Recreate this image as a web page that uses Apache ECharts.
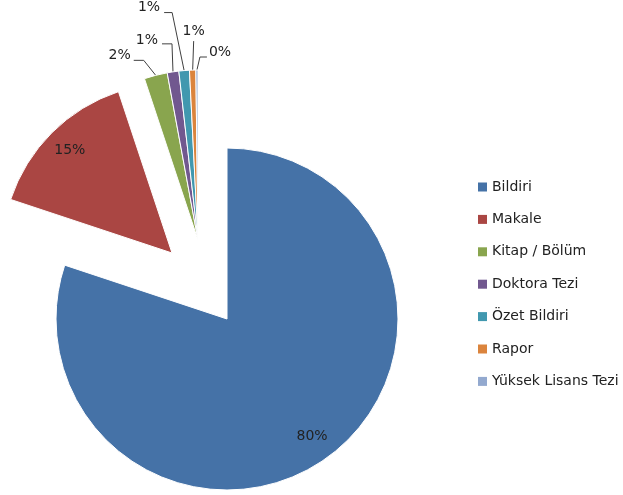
<!DOCTYPE html>
<html>
<head>
<meta charset="utf-8">
<script src="https://cdn.jsdelivr.net/npm/echarts@6/dist/echarts.min.js"></script>
<style>
  html, body { margin: 0; padding: 0; background: #fff; }
  #main { width: 623px; height: 495px; }
</style>
</head>
<body>
<div id="main"></div>
<script>
const categories = ['Bildiri', 'Makale', 'Kitap / Bölüm', 'Doktora Tezi', 'Özet Bildiri', 'Rapor', 'Yüksek Lisans Tezi'];
const shares = [80.1, 14.8, 2.2, 1.1, 1.0, 0.6, 0.2];
const colors = ['#4572A7', '#AA4643', '#89A54E', '#71588F', '#4198AF', '#DB843D', '#93A9CF'];

// exploded pieces: every pie gets all the data, only its own slices are painted
const groups = [
    { show: [0], center: [227, 319], radius: 171, outside: false },
    { show: [1], center: [172, 253], radius: 170, outside: false },
    { show: [2, 3, 4, 5, 6], center: [198, 240], radius: 170, outside: true }
];

// leader lines of the thin slices, offsets from the point on the arc
const leaders = {
    2: { elbow: [-12, -15], end: [-22, -15], text: [-3, -5], align: 'right' },
    3: { elbow: [-1, -28], end: [-11, -28], text: [-4, -3], align: 'right' },
    4: { elbow: [-12, -58], end: [-20, -58], text: [-4, -5], align: 'right' },
    5: { elbow: [1, -29], end: [1, -29], text: [0, -10], align: 'center' },
    6: { elbow: [3, -13], end: [10, -13], text: [2, -5], align: 'left' }
};

const font = 'DejaVu Sans';
const total = shares.reduce((a, b) => a + b, 0);

function midAngle(i) {
    let before = 0;
    for (let k = 0; k < i; k++) before += shares[k];
    return (before + shares[i] / 2) / total * 2 * Math.PI;
}

function makeSeries(g) {
    return {
        type: 'pie',
        center: g.center,
        radius: g.radius,
        startAngle: 90,
        clockwise: true,
        silent: true,
        avoidLabelOverlap: false,
        emphasis: { disabled: true },
        label: {
            position: g.outside ? 'outside' : 'inside',
            fontFamily: font,
            fontSize: 14,
            color: '#222',
            formatter: p => Math.round(p.percent) + '%'
        },
        labelLine: {
            show: g.outside,
            length: 10,
            length2: 5,
            lineStyle: { color: '#404040', width: 1 }
        },
        labelLayout: function (params) {
            const i = params.dataIndex;
            if (g.show.indexOf(i) < 0) return {};
            const a = midAngle(i);
            const sx = Math.sin(a), sy = -Math.cos(a);
            if (!g.outside) {
                return {
                    x: g.center[0] + 0.85 * g.radius * sx,
                    y: g.center[1] + 0.85 * g.radius * sy,
                    align: 'center',
                    verticalAlign: 'middle'
                };
            }
            const L = leaders[i];
            const p0 = [g.center[0] + g.radius * sx, g.center[1] + g.radius * sy];
            const p1 = [p0[0] + L.elbow[0], p0[1] + L.elbow[1]];
            const p2 = [p0[0] + L.end[0], p0[1] + L.end[1]];
            return {
                x: p2[0] + L.text[0],
                y: p2[1] + L.text[1],
                align: L.align,
                verticalAlign: 'middle',
                labelLinePoints: [p0, p1, p2]
            };
        },
        data: categories.map((name, i) => {
            const on = g.show.indexOf(i) >= 0;
            return {
                name: name,
                value: shares[i],
                itemStyle: {
                    color: on ? colors[i] : 'transparent',
                    borderColor: on ? '#fff' : 'transparent',
                    borderWidth: on ? 1 : 0
                },
                label: { show: on },
                labelLine: { show: on && g.outside }
            };
        })
    };
}

const chart = echarts.init(document.getElementById('main'));
chart.setOption({
    backgroundColor: '#fff',
    animation: false,
    legend: {
        orient: 'vertical',
        left: 478,
        top: 180,
        padding: 0,
        icon: 'rect',
        itemWidth: 9,
        itemHeight: 9,
        itemGap: 18.4,
        selectedMode: false,
        itemStyle: { borderWidth: 0 },
        textStyle: { fontFamily: font, fontSize: 14, color: '#222', lineHeight: 14 },
        data: categories.map((name, i) => ({ name: name, itemStyle: { color: colors[i] } }))
    },
    series: groups.map(makeSeries)
});
</script>
</body>
</html>
